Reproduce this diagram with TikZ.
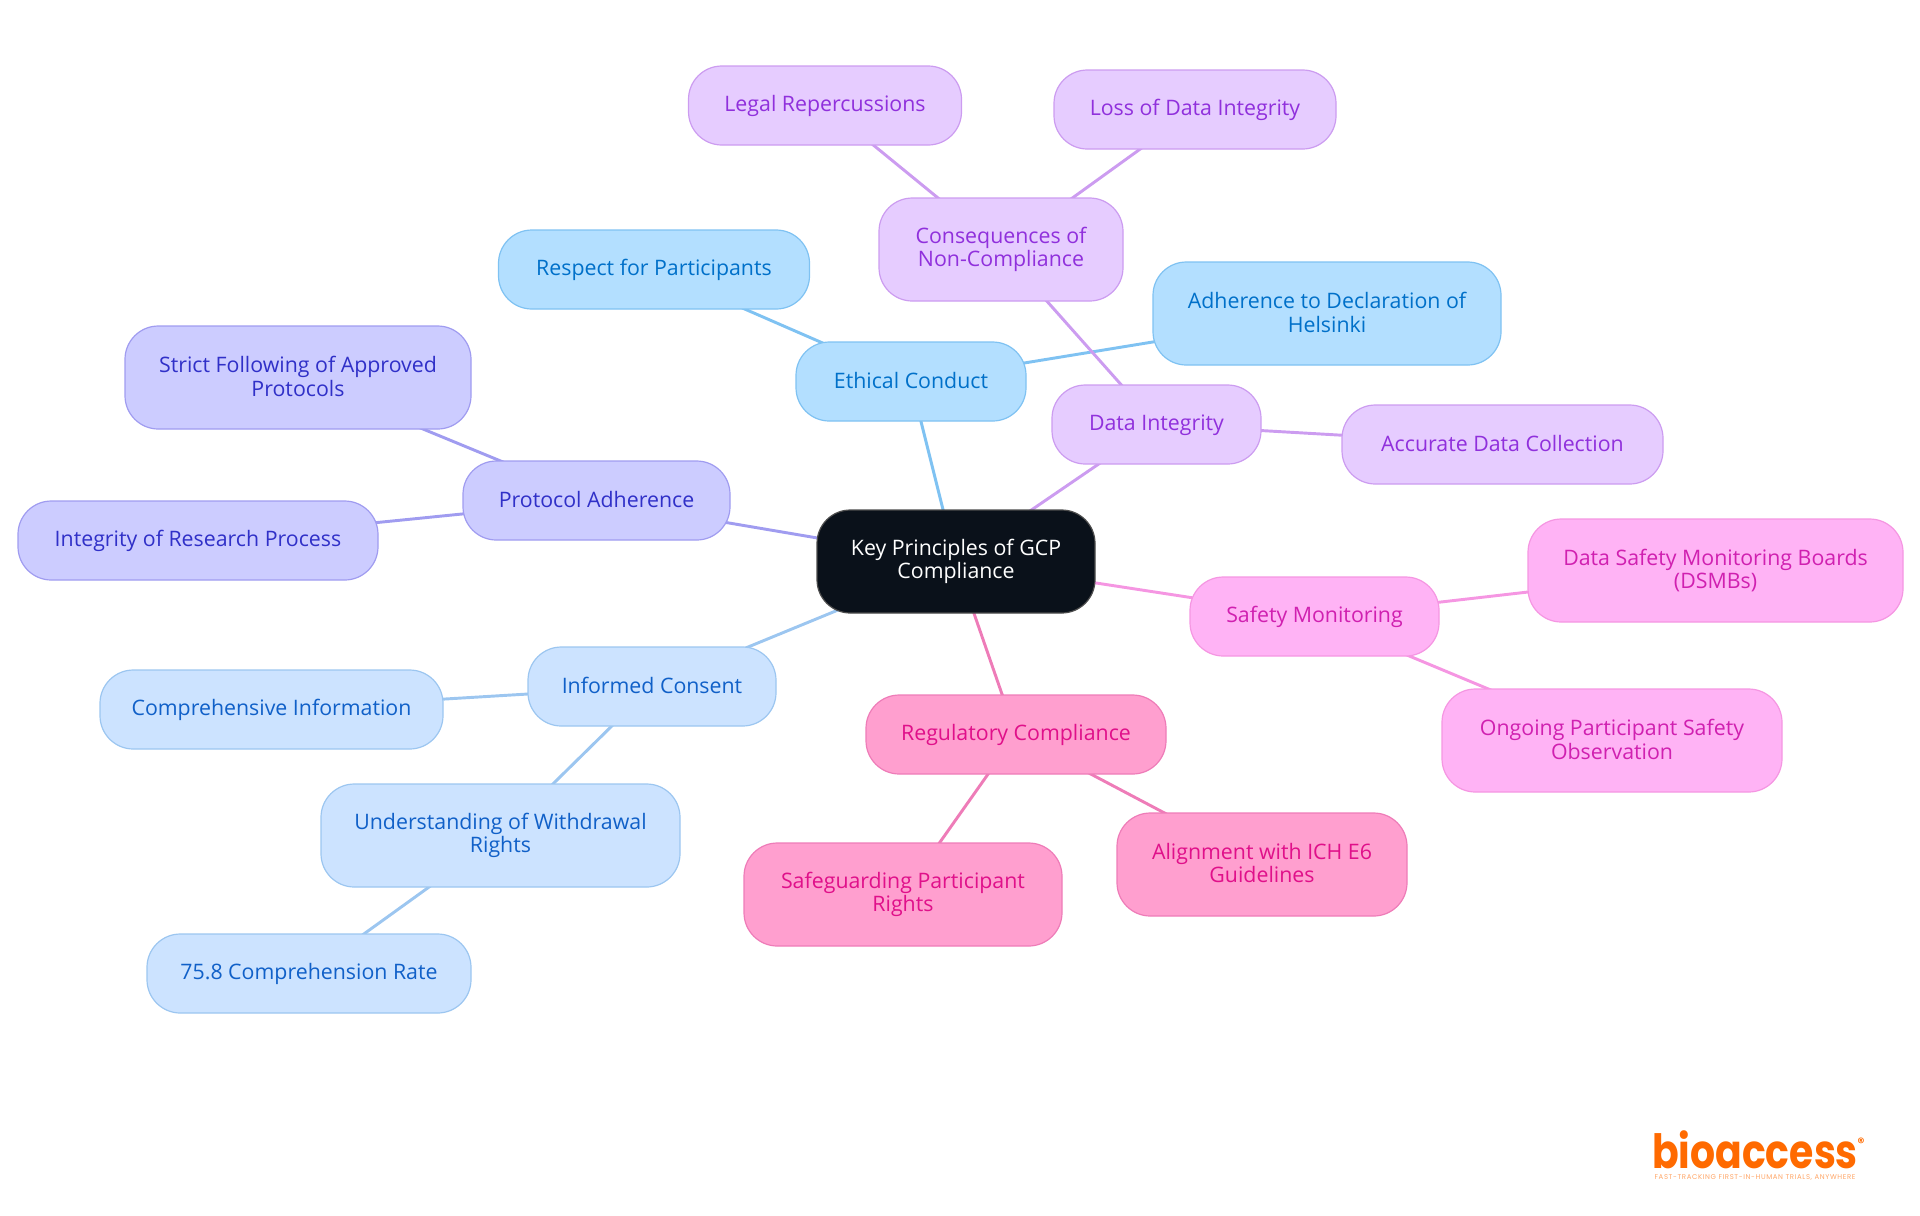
\documentclass[tikz,border=0pt]{standalone}
\usepackage{fontspec}
\usepackage{graphicx}
\setmainfont{Open Sans}
\newfontfamily\logofont{Poppins}
\newfontfamily\tagfont[LetterSpace=9]{Poppins}
\usetikzlibrary{backgrounds}
\newcommand{\boxstrut}{\rule[-2.3pt]{0pt}{14.7pt}}
\definecolor{blueF}{HTML}{B3DFFF}\definecolor{blueD}{HTML}{7FC2F2}\definecolor{blueT}{HTML}{0070C9}
\definecolor{purpF}{HTML}{E6CCFF}\definecolor{purpD}{HTML}{CC9CF0}\definecolor{purpT}{HTML}{9030DC}
\definecolor{indF}{HTML}{CCCCFF}\definecolor{indD}{HTML}{A09CF0}\definecolor{indT}{HTML}{3030C8}
\definecolor{skyF}{HTML}{CCE3FF}\definecolor{skyD}{HTML}{9CC6F0}\definecolor{skyT}{HTML}{1060C8}
\definecolor{roseF}{HTML}{FF9FCF}\definecolor{roseD}{HTML}{EE7CB8}\definecolor{roseT}{HTML}{E0108A}
\definecolor{pinkF}{HTML}{FFB3F5}\definecolor{pinkD}{HTML}{F596E2}\definecolor{pinkT}{HTML}{D020B0}
\definecolor{rootF}{HTML}{0A111A}\definecolor{logoO}{HTML}{FF6A00}
\tikzset{
  x=0.75pt,y=-0.75pt,
  box/.style n args={5}{draw=#1,fill=#2,text=#3,line width=0.9pt,rounded corners=25pt,
    inner sep=0pt,minimum width=#4*0.75pt,minimum height=#5*0.75pt,align=center,
    font=\fontsize{16}{17.8}\selectfont,
    execute at begin node=\boxstrut,execute at end node=\boxstrut},
  blueN/.style 2 args={box={blueD}{blueF}{blueT}{#1}{#2}},
  purpN/.style 2 args={box={purpD}{purpF}{purpT}{#1}{#2}},
  indN/.style 2 args={box={indD}{indF}{indT}{#1}{#2}},
  skyN/.style 2 args={box={skyD}{skyF}{skyT}{#1}{#2}},
  roseN/.style 2 args={box={roseD}{roseF}{roseT}{#1}{#2}},
  pinkN/.style 2 args={box={pinkD}{pinkF}{pinkT}{#1}{#2}},
  link/.style={line width=2.2pt},
}
\begin{document}
\begin{tikzpicture}
\useasboundingbox (0,0) rectangle (1920,1215);
\node[box={black!70}{rootF}{white}{278}{103}] (root) at (956,561.5) {Key Principles of GCP\\Compliance};
\node[blueN={230}{79}] (ethical) at (911,381.5) {Ethical Conduct};
\node[blueN={311}{79}] (respect) at (654,269.5) {Respect for Participants};
\node[blueN={348}{103}] (helsinki) at (1327,313.5) {Adherence to Declaration of\\Helsinki};
\node[purpN={209}{79}] (data) at (1156.5,424.5) {Data Integrity};
\node[purpN={321}{79}] (accurate) at (1502.5,444.5) {Accurate Data Collection};
\node[purpN={244}{103}] (conseq) at (1001,249.5) {Consequences of\\Non-Compliance};
\node[purpN={273}{79}] (legal) at (825,105.5) {Legal Repercussions};
\node[purpN={282}{79}] (loss) at (1195,109.5) {Loss of Data Integrity};
\node[indN={267}{79}] (protocol) at (596.5,500.5) {Protocol Adherence};
\node[indN={346}{103}] (strict) at (298,377.5) {Strict Following of Approved\\Protocols};
\node[indN={360}{79}] (research) at (198,540.5) {Integrity of Research Process};
\node[skyN={248}{79}] (consent) at (652,686.5) {Informed Consent};
\node[skyN={343}{79}] (compre) at (271.5,709.5) {Comprehensive Information};
\node[skyN={359}{103}] (withdraw) at (500.5,835.5) {Understanding of Withdrawal\\Rights};
\node[skyN={324}{79}] (rate) at (309,973.5) {75.8 Comprehension Rate};
\node[roseN={300}{79}] (regul) at (1016,734.5) {Regulatory Compliance};
\node[roseN={318}{103}] (safeg) at (903,894.5) {Safeguarding Participant\\Rights};
\node[roseN={290}{103}] (ich) at (1262,864.5) {Alignment with ICH E6\\Guidelines};
\node[pinkN={249}{79}] (safety) at (1314.5,616.5) {Safety Monitoring};
\node[pinkN={375}{103}] (dsmb) at (1715.5,570.5) {Data Safety Monitoring Boards\\(DSMBs)};
\node[pinkN={340}{103}] (ongoing) at (1612,740.5) {Ongoing Participant Safety\\Observation};
\begin{scope}[on background layer]
\draw[link,blueD] (root.center) -- (ethical.center);
\draw[link,blueD] (ethical.center) -- (respect.center);
\draw[link,blueD] (ethical.center) -- (helsinki.center);
\draw[link,purpD] (root.center) -- (data.center);
\draw[link,purpD] (data.center) -- (accurate.center);
\draw[link,purpD] (data.center) -- (conseq.center);
\draw[link,purpD] (conseq.center) -- (legal.center);
\draw[link,purpD] (conseq.center) -- (loss.center);
\draw[link,indD] (root.center) -- (protocol.center);
\draw[link,indD] (protocol.center) -- (strict.center);
\draw[link,indD] (protocol.center) -- (research.center);
\draw[link,skyD] (root.center) -- (consent.center);
\draw[link,skyD] (consent.center) -- (compre.center);
\draw[link,skyD] (consent.center) -- (withdraw.center);
\draw[link,skyD] (withdraw.center) -- (rate.center);
\draw[link,roseD] (root.center) -- (regul.center);
\draw[link,roseD] (regul.center) -- (safeg.center);
\draw[link,roseD] (regul.center) -- (ich.center);
\draw[link,pinkD] (root.center) -- (safety.center);
\draw[link,pinkD] (safety.center) -- (dsmb.center);
\draw[link,pinkD] (safety.center) -- (ongoing.center);
\end{scope}
\node[text=logoO,inner sep=0pt,anchor=base,font=\logofont\bfseries\fontsize{29.5}{30}\selectfont] (logo) at (1755,1168) {\scalebox{1}[1.2]{bioaccess}};
\node[text=logoO,inner sep=0pt,font=\logofont\bfseries\fontsize{10}{10}\selectfont] (reg) at (1861,1143) {®};
\node[text=logoO!60,inner sep=0pt,font=\tagfont\fontsize{5.2}{5.6}\selectfont] (tag) at (1755,1178) {FAST-TRACKING FIRST-IN-HUMAN TRIALS, ANYWHERE};
\end{tikzpicture}
\end{document}
